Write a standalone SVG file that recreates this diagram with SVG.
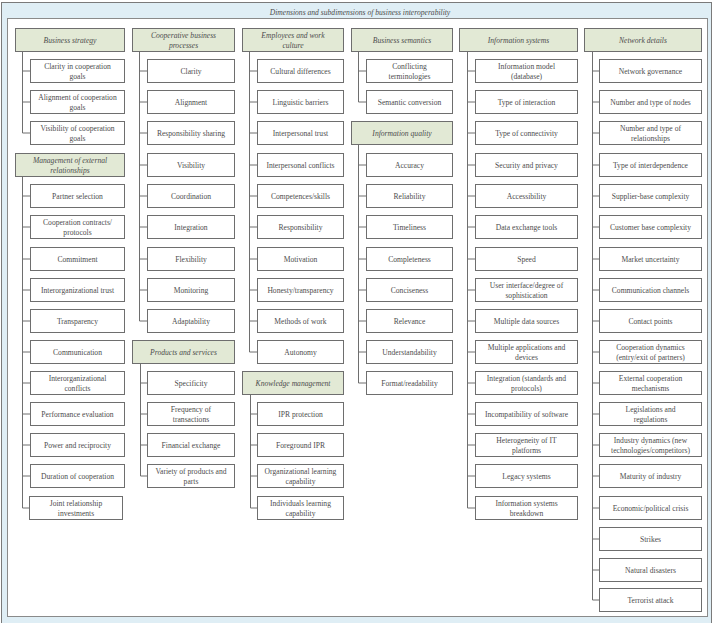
<svg xmlns="http://www.w3.org/2000/svg" width="720" height="623" viewBox="0 0 720 623">
<style>
.h{fill:#e2e9d5;stroke:#6e6e6e;stroke-width:1}
.c{fill:#fff;stroke:#6e6e6e;stroke-width:1}
text{font-family:"Liberation Serif","Times New Roman",serif;font-size:7.6px;fill:#4d4d4d;text-anchor:middle}
.i{font-style:italic}
.ln{fill:none;stroke:#6e6e6e;stroke-width:1}
</style>
<rect x="1.5" y="2.5" width="710" height="630" fill="#dfeef5" stroke="#7a7a7a"/>
<rect x="7.5" y="18.5" width="700" height="598" fill="#fff" stroke="#8a8a8a"/>
<text class="i" x="360" y="14.5">Dimensions and subdimensions of business interoperability</text>

<g id="connectors" class="ln">
<path d="M22.5 52V133M22.5 71H30M22.5 102H30M22.5 133H30"/>
<path d="M22.5 177V508M22.5 196H30M22.5 227H30M22.5 259H30M22.5 290H30M22.5 321H30M22.5 352H30M22.5 383H30M22.5 414H30M22.5 445H30M22.5 476H30M22.5 508H29"/>
<path d="M139.5 52V321M139.5 71H147M139.5 102H147M139.5 133H147M139.5 165H147M139.5 196H147M139.5 227H147M139.5 259H147M139.5 290H147M139.5 321H147"/>
<path d="M140.5 364V476M140.5 383H147M140.5 414H147M140.5 445H147M140.5 476H147"/>
<path d="M249.5 52V352M249.5 71H257M249.5 102H257M249.5 133H257M249.5 165H257M249.5 196H257M249.5 227H257M249.5 259H257M249.5 290H257M249.5 321H257M249.5 352H257"/>
<path d="M250.5 395V508M250.5 414H257M250.5 445H257M250.5 476H257M250.5 508H257"/>
<path d="M358.5 52V102M358.5 71H366M358.5 102H366"/>
<path d="M358.5 145V383M358.5 165H366M358.5 196H366M358.5 227H366M358.5 259H366M358.5 290H366M358.5 321H366M358.5 352H366M358.5 383H366"/>
<path d="M467.5 52V508M467.5 71H475M467.5 102H475M467.5 133H475M467.5 165H475M467.5 196H475M467.5 227H475M467.5 259H475M467.5 290H475M467.5 321H475M467.5 352H475M467.5 383H475M467.5 414H475M467.5 445H475M467.5 476H475M467.5 508H475"/>
<path d="M592.5 52V600M592.5 71H599M592.5 102H599M592.5 133H599M592.5 165H599M592.5 196H599M592.5 227H599M592.5 259H599M592.5 290H599M592.5 321H599M592.5 352H599M592.5 383H599M592.5 414H599M592.5 445H599M592.5 476H599M592.5 508H599M592.5 539H599M592.5 570H599M592.5 600H599"/>
</g>

<!-- Column 1 -->
<g id="business-strategy"><rect class="h" x="15.5" y="28.5" width="109" height="23"/><text class="i" x="70" y="42.6">Business strategy</text></g>
<g id="bs-1"><rect class="c" x="30.5" y="59.5" width="94" height="23"/><text x="77.5" y="68.8">Clarity in cooperation</text><text x="77.5" y="79.3">goals</text></g>
<g id="bs-2"><rect class="c" x="30.5" y="90.5" width="94" height="23"/><text x="77.5" y="99.8">Alignment of cooperation</text><text x="77.5" y="110.3">goals</text></g>
<g id="bs-3"><rect class="c" x="30.5" y="121.5" width="94" height="23"/><text x="77.5" y="130.8">Visibility of cooperation</text><text x="77.5" y="141.3">goals</text></g>
<g id="management"><rect class="h" x="15.5" y="153.5" width="109" height="23"/><text class="i" x="70" y="162.8">Management of external</text><text class="i" x="70" y="173.3">relationships</text></g>
<g id="mer-1"><rect class="c" x="30.5" y="184.5" width="94" height="23"/><text x="77.5" y="198.6">Partner selection</text></g>
<g id="mer-2"><rect class="c" x="30.5" y="215.5" width="94" height="23"/><text x="77.5" y="224.8">Cooperation contracts/</text><text x="77.5" y="235.3">protocols</text></g>
<g id="mer-3"><rect class="c" x="30.5" y="247.5" width="94" height="23"/><text x="77.5" y="261.6">Commitment</text></g>
<g id="mer-4"><rect class="c" x="30.5" y="278.5" width="94" height="23"/><text x="77.5" y="292.6">Interorganizational trust</text></g>
<g id="mer-5"><rect class="c" x="30.5" y="309.5" width="94" height="23"/><text x="77.5" y="323.6">Transparency</text></g>
<g id="mer-6"><rect class="c" x="30.5" y="340.5" width="94" height="23"/><text x="77.5" y="354.6">Communication</text></g>
<g id="mer-7"><rect class="c" x="30.5" y="371.5" width="94" height="23"/><text x="77.5" y="380.8">Interorganizational</text><text x="77.5" y="391.3">conflicts</text></g>
<g id="mer-8"><rect class="c" x="30.5" y="402.5" width="94" height="23"/><text x="77.5" y="416.6">Performance evaluation</text></g>
<g id="mer-9"><rect class="c" x="30.5" y="433.5" width="94" height="23"/><text x="77.5" y="447.6">Power and reciprocity</text></g>
<g id="mer-10"><rect class="c" x="30.5" y="464.5" width="94" height="23"/><text x="77.5" y="478.6">Duration of cooperation</text></g>
<g id="mer-11"><rect class="c" x="29.5" y="496.5" width="93" height="23"/><text x="76" y="505.8">Joint relationship</text><text x="76" y="516.3">investments</text></g>

<!-- Column 2 -->
<g id="coop-processes"><rect class="h" x="132.5" y="28.5" width="102" height="23"/><text class="i" x="183.5" y="37.8">Cooperative business</text><text class="i" x="183.5" y="48.3">processes</text></g>
<g id="cbp-1"><rect class="c" x="147.5" y="59.5" width="87" height="23"/><text x="191" y="73.6">Clarity</text></g>
<g id="cbp-2"><rect class="c" x="147.5" y="90.5" width="87" height="23"/><text x="191" y="104.6">Alignment</text></g>
<g id="cbp-3"><rect class="c" x="147.5" y="121.5" width="87" height="23"/><text x="191" y="135.6">Responsibility sharing</text></g>
<g id="cbp-4"><rect class="c" x="147.5" y="153.5" width="87" height="23"/><text x="191" y="167.6">Visibility</text></g>
<g id="cbp-5"><rect class="c" x="147.5" y="184.5" width="87" height="23"/><text x="191" y="198.6">Coordination</text></g>
<g id="cbp-6"><rect class="c" x="147.5" y="215.5" width="87" height="23"/><text x="191" y="229.6">Integration</text></g>
<g id="cbp-7"><rect class="c" x="147.5" y="247.5" width="87" height="23"/><text x="191" y="261.6">Flexibility</text></g>
<g id="cbp-8"><rect class="c" x="147.5" y="278.5" width="87" height="23"/><text x="191" y="292.6">Monitoring</text></g>
<g id="cbp-9"><rect class="c" x="147.5" y="309.5" width="87" height="23"/><text x="191" y="323.6">Adaptability</text></g>
<g id="products"><rect class="h" x="132.5" y="340.5" width="102" height="23"/><text class="i" x="183.5" y="354.6">Products and services</text></g>
<g id="ps-1"><rect class="c" x="147.5" y="371.5" width="87" height="23"/><text x="191" y="385.6">Specificity</text></g>
<g id="ps-2"><rect class="c" x="147.5" y="402.5" width="87" height="23"/><text x="191" y="411.8">Frequency of</text><text x="191" y="422.3">transactions</text></g>
<g id="ps-3"><rect class="c" x="147.5" y="433.5" width="87" height="23"/><text x="191" y="447.6">Financial exchange</text></g>
<g id="ps-4"><rect class="c" x="147.5" y="464.5" width="87" height="23"/><text x="191" y="473.8">Variety of products and</text><text x="191" y="484.3">parts</text></g>

<!-- Column 3 -->
<g id="employees"><rect class="h" x="242.5" y="28.5" width="101" height="23"/><text class="i" x="293" y="37.8">Employees and work</text><text class="i" x="293" y="48.3">culture</text></g>
<g id="ewc-1"><rect class="c" x="257.5" y="59.5" width="86" height="23"/><text x="300.5" y="73.6">Cultural differences</text></g>
<g id="ewc-2"><rect class="c" x="257.5" y="90.5" width="86" height="23"/><text x="300.5" y="104.6">Linguistic barriers</text></g>
<g id="ewc-3"><rect class="c" x="257.5" y="121.5" width="86" height="23"/><text x="300.5" y="135.6">Interpersonal trust</text></g>
<g id="ewc-4"><rect class="c" x="257.5" y="153.5" width="86" height="23"/><text x="300.5" y="167.6">Interpersonal conflicts</text></g>
<g id="ewc-5"><rect class="c" x="257.5" y="184.5" width="86" height="23"/><text x="300.5" y="198.6">Competences/skills</text></g>
<g id="ewc-6"><rect class="c" x="257.5" y="215.5" width="86" height="23"/><text x="300.5" y="229.6">Responsibility</text></g>
<g id="ewc-7"><rect class="c" x="257.5" y="247.5" width="86" height="23"/><text x="300.5" y="261.6">Motivation</text></g>
<g id="ewc-8"><rect class="c" x="257.5" y="278.5" width="86" height="23"/><text x="300.5" y="292.6">Honesty/transparency</text></g>
<g id="ewc-9"><rect class="c" x="257.5" y="309.5" width="86" height="23"/><text x="300.5" y="323.6">Methods of work</text></g>
<g id="ewc-10"><rect class="c" x="257.5" y="340.5" width="86" height="23"/><text x="300.5" y="354.6">Autonomy</text></g>
<g id="knowledge"><rect class="h" x="242.5" y="371.5" width="101" height="23"/><text class="i" x="293" y="385.6">Knowledge management</text></g>
<g id="km-1"><rect class="c" x="257.5" y="402.5" width="86" height="23"/><text x="300.5" y="416.6">IPR protection</text></g>
<g id="km-2"><rect class="c" x="257.5" y="433.5" width="86" height="23"/><text x="300.5" y="447.6">Foreground IPR</text></g>
<g id="km-3"><rect class="c" x="257.5" y="464.5" width="86" height="23"/><text x="300.5" y="473.8">Organizational learning</text><text x="300.5" y="484.3">capability</text></g>
<g id="km-4"><rect class="c" x="257.5" y="496.5" width="86" height="23"/><text x="300.5" y="505.8">Individuals learning</text><text x="300.5" y="516.3">capability</text></g>

<!-- Column 4 -->
<g id="semantics"><rect class="h" x="351.5" y="28.5" width="101" height="23"/><text class="i" x="402" y="42.6">Business semantics</text></g>
<g id="sem-1"><rect class="c" x="366.5" y="59.5" width="86" height="23"/><text x="409.5" y="68.8">Conflicting</text><text x="409.5" y="79.3">terminologies</text></g>
<g id="sem-2"><rect class="c" x="366.5" y="90.5" width="86" height="23"/><text x="409.5" y="104.6">Semantic conversion</text></g>
<g id="info-quality"><rect class="h" x="351.5" y="121.5" width="101" height="23"/><text class="i" x="402" y="135.6">Information quality</text></g>
<g id="iq-1"><rect class="c" x="366.5" y="153.5" width="86" height="23"/><text x="409.5" y="167.6">Accuracy</text></g>
<g id="iq-2"><rect class="c" x="366.5" y="184.5" width="86" height="23"/><text x="409.5" y="198.6">Reliability</text></g>
<g id="iq-3"><rect class="c" x="366.5" y="215.5" width="86" height="23"/><text x="409.5" y="229.6">Timeliness</text></g>
<g id="iq-4"><rect class="c" x="366.5" y="247.5" width="86" height="23"/><text x="409.5" y="261.6">Completeness</text></g>
<g id="iq-5"><rect class="c" x="366.5" y="278.5" width="86" height="23"/><text x="409.5" y="292.6">Conciseness</text></g>
<g id="iq-6"><rect class="c" x="366.5" y="309.5" width="86" height="23"/><text x="409.5" y="323.6">Relevance</text></g>
<g id="iq-7"><rect class="c" x="366.5" y="340.5" width="86" height="23"/><text x="409.5" y="354.6">Understandability</text></g>
<g id="iq-8"><rect class="c" x="366.5" y="371.5" width="86" height="23"/><text x="409.5" y="385.6">Format/readability</text></g>

<!-- Column 5 -->
<g id="info-systems"><rect class="h" x="459.5" y="28.5" width="118" height="23"/><text class="i" x="518.5" y="42.6">Information systems</text></g>
<g id="is-1"><rect class="c" x="475.5" y="59.5" width="102" height="23"/><text x="526.5" y="68.8">Information model</text><text x="526.5" y="79.3">(database)</text></g>
<g id="is-2"><rect class="c" x="475.5" y="90.5" width="102" height="23"/><text x="526.5" y="104.6">Type of interaction</text></g>
<g id="is-3"><rect class="c" x="475.5" y="121.5" width="102" height="23"/><text x="526.5" y="135.6">Type of connectivity</text></g>
<g id="is-4"><rect class="c" x="475.5" y="153.5" width="102" height="23"/><text x="526.5" y="167.6">Security and privacy</text></g>
<g id="is-5"><rect class="c" x="475.5" y="184.5" width="102" height="23"/><text x="526.5" y="198.6">Accessibility</text></g>
<g id="is-6"><rect class="c" x="475.5" y="215.5" width="102" height="23"/><text x="526.5" y="229.6">Data exchange tools</text></g>
<g id="is-7"><rect class="c" x="475.5" y="247.5" width="102" height="23"/><text x="526.5" y="261.6">Speed</text></g>
<g id="is-8"><rect class="c" x="475.5" y="278.5" width="102" height="23"/><text x="526.5" y="287.8">User interface/degree of</text><text x="526.5" y="298.3">sophistication</text></g>
<g id="is-9"><rect class="c" x="475.5" y="309.5" width="102" height="23"/><text x="526.5" y="323.6">Multiple data sources</text></g>
<g id="is-10"><rect class="c" x="475.5" y="340.5" width="102" height="23"/><text x="526.5" y="349.8">Multiple applications and</text><text x="526.5" y="360.3">devices</text></g>
<g id="is-11"><rect class="c" x="475.5" y="371.5" width="102" height="23"/><text x="526.5" y="380.8">Integration (standards and</text><text x="526.5" y="391.3">protocols)</text></g>
<g id="is-12"><rect class="c" x="475.5" y="402.5" width="102" height="23"/><text x="526.5" y="416.6">Incompatibility of software</text></g>
<g id="is-13"><rect class="c" x="475.5" y="433.5" width="102" height="23"/><text x="526.5" y="442.8">Heterogeneity of IT</text><text x="526.5" y="453.3">platforms</text></g>
<g id="is-14"><rect class="c" x="475.5" y="464.5" width="102" height="23"/><text x="526.5" y="478.6">Legacy systems</text></g>
<g id="is-15"><rect class="c" x="475.5" y="496.5" width="102" height="23"/><text x="526.5" y="505.8">Information systems</text><text x="526.5" y="516.3">breakdown</text></g>

<!-- Column 6 -->
<g id="network"><rect class="h" x="584.5" y="28.5" width="117" height="23"/><text class="i" x="643" y="42.6">Network details</text></g>
<g id="nd-1"><rect class="c" x="599.5" y="59.5" width="102" height="23"/><text x="650.5" y="73.6">Network governance</text></g>
<g id="nd-2"><rect class="c" x="599.5" y="90.5" width="102" height="23"/><text x="650.5" y="104.6">Number and type of nodes</text></g>
<g id="nd-3"><rect class="c" x="599.5" y="121.5" width="102" height="23"/><text x="650.5" y="130.8">Number and type of</text><text x="650.5" y="141.3">relationships</text></g>
<g id="nd-4"><rect class="c" x="599.5" y="153.5" width="102" height="23"/><text x="650.5" y="167.6">Type of interdependence</text></g>
<g id="nd-5"><rect class="c" x="599.5" y="184.5" width="102" height="23"/><text x="650.5" y="198.6">Supplier-base complexity</text></g>
<g id="nd-6"><rect class="c" x="599.5" y="215.5" width="102" height="23"/><text x="650.5" y="229.6">Customer base complexity</text></g>
<g id="nd-7"><rect class="c" x="599.5" y="247.5" width="102" height="23"/><text x="650.5" y="261.6">Market uncertainty</text></g>
<g id="nd-8"><rect class="c" x="599.5" y="278.5" width="102" height="23"/><text x="650.5" y="292.6">Communication channels</text></g>
<g id="nd-9"><rect class="c" x="599.5" y="309.5" width="102" height="23"/><text x="650.5" y="323.6">Contact points</text></g>
<g id="nd-10"><rect class="c" x="599.5" y="340.5" width="102" height="23"/><text x="650.5" y="349.8">Cooperation dynamics</text><text x="650.5" y="360.3">(entry/exit of partners)</text></g>
<g id="nd-11"><rect class="c" x="599.5" y="371.5" width="102" height="23"/><text x="650.5" y="380.8">External cooperation</text><text x="650.5" y="391.3">mechanisms</text></g>
<g id="nd-12"><rect class="c" x="599.5" y="402.5" width="102" height="23"/><text x="650.5" y="411.8">Legislations and</text><text x="650.5" y="422.3">regulations</text></g>
<g id="nd-13"><rect class="c" x="599.5" y="433.5" width="102" height="23"/><text x="650.5" y="442.8">Industry dynamics (new</text><text x="650.5" y="453.3">technologies/competitors)</text></g>
<g id="nd-14"><rect class="c" x="599.5" y="464.5" width="102" height="23"/><text x="650.5" y="478.6">Maturity of industry</text></g>
<g id="nd-15"><rect class="c" x="599.5" y="496.5" width="102" height="23"/><text x="650.5" y="510.6">Economic/political crisis</text></g>
<g id="nd-16"><rect class="c" x="599.5" y="527.5" width="102" height="23"/><text x="650.5" y="541.6">Strikes</text></g>
<g id="nd-17"><rect class="c" x="599.5" y="558.5" width="102" height="23"/><text x="650.5" y="572.6">Natural disasters</text></g>
<g id="nd-18"><rect class="c" x="599.5" y="588.5" width="102" height="23"/><text x="650.5" y="602.6">Terrorist attack</text></g>
</svg>
